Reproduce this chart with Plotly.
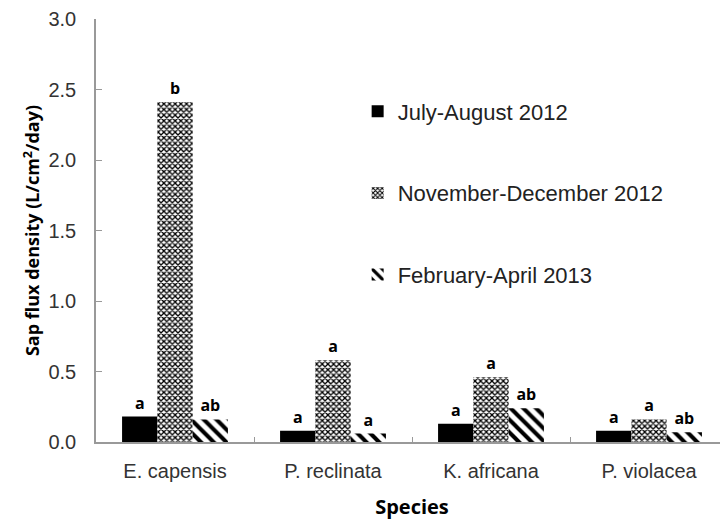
import plotly.graph_objects as go

# -- Data ---------------------------------------------------------------------

species = ["E. capensis", "P. reclinata", "K. africana", "P. violacea"]

jul_aug_2012 = [0.18, 0.08, 0.13, 0.08]
nov_dec_2012 = [2.41, 0.58, 0.46, 0.16]
feb_apr_2013 = [0.16, 0.06, 0.24, 0.07]

jul_aug_letters = ["a", "a", "a", "a"]
nov_dec_letters = ["b", "a", "a", "a"]
feb_apr_letters = ["ab", "a", "ab", "ab"]

series = [
    ("July-August 2012", jul_aug_2012, jul_aug_letters,
     dict(color="black")),
    ("November-December 2012", nov_dec_2012, nov_dec_letters,
     dict(color="white", pattern=dict(shape="x", fgcolor="black", bgcolor="white",
                                      size=4, solidity=0.55, fillmode="replace"))),
    ("February-April 2013", feb_apr_2013, feb_apr_letters,
     dict(color="white", pattern=dict(shape="\\", fgcolor="black", bgcolor="white",
                                      size=9, solidity=0.45, fillmode="replace"))),
]

# -- Figure -------------------------------------------------------------------

fig = go.Figure()
for i, (name, vals, letters, marker) in enumerate(series):
    fig.add_trace(go.Bar(
        x=species, y=vals, name=name, legendgroup=f"g{i}",
        text=letters, textposition="outside", cliponaxis=False,
        textfont=dict(family="Open Sans", size=16, color="black", weight="bold"),
        marker=dict(line=dict(width=0), **marker),
    ))

# page body adds an 8px offset, margins account for it
fig.update_layout(
    width=728, height=523,
    margin=dict(l=88, r=8, t=11, b=89),
    plot_bgcolor="white", paper_bgcolor="white",
    barmode="group", bargap=0.33, bargroupgap=0,
    font=dict(family="Liberation Sans, Arial", color="#222"),
    showlegend=True,
    legend=dict(
        x=0.414, y=0.831, xanchor="left", yanchor="top",
        font=dict(size=22, color="#222"),
        tracegroupgap=50, bgcolor="rgba(0,0,0,0)",
    ),
)

fig.update_xaxes(
    type="category", tickson="boundaries", ticks="inside", ticklen=5,
    tickcolor="#999", showline=True, linecolor="#999", linewidth=1.5,
    tickfont=dict(size=20, color="#333"), ticklabelstandoff=10,
    title=dict(text="<b>Species</b>", font=dict(family="Open Sans", size=20, color="black"),
               standoff=19),
    range=[-0.5, 3.5], automargin=False,
)
fig.update_yaxes(
    range=[0, 3], dtick=0.5, tickformat=".1f", ticks="inside", ticklen=6,
    tickcolor="#999", showline=True, linecolor="#999", linewidth=1.5,
    showgrid=False, zeroline=False,
    tickfont=dict(size=20, color="#333"), ticklabelstandoff=14,
    title=dict(text="<b>Sap flux density (L/cm<sup>2</sup>/day)</b>",
               font=dict(family="Open Sans", size=18, color="black"), standoff=4),
    automargin=False,
)

fig.write_html("out.html")
